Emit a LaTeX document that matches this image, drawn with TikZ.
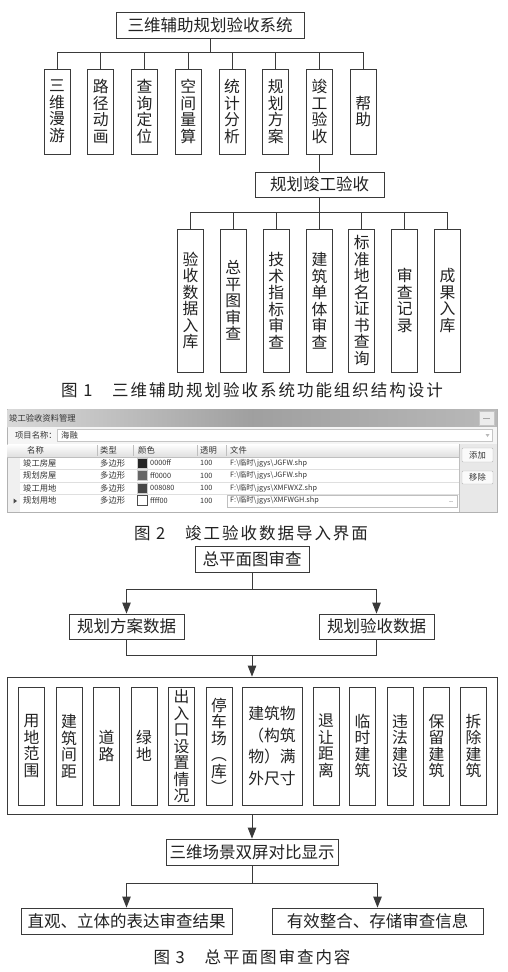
\documentclass[tikz,border=0pt]{standalone}
\usepackage{fontspec}
\setmainfont{Noto Sans CJK SC}
\newfontfamily\capfont{Noto Sans CJK SC}[LetterSpace=12]
\usetikzlibrary{arrows.meta}
\definecolor{ln}{HTML}{3A3A3A}
\definecolor{tx}{HTML}{222222}
\begin{document}
\begin{tikzpicture}[x=1pt,y=-1pt,
  bx/.style={draw=ln, line width=0.9pt, inner sep=0pt, text=tx, font=\fontsize{15.8}{16.5}\selectfont, align=center},
  hb/.style={bx, font=\fontsize{16.5}{17}\selectfont},
  vb/.style={bx, minimum width=26pt},
  cn/.style={draw=ln, line width=0.9pt},
  arr/.style={cn, -{Triangle[length=11pt,width=8.5pt]}},
  capt/.style={text=tx, font=\capfont\fontsize{16.5}{18}\selectfont, inner sep=0pt},
  sm/.style={text=black!80, font=\fontsize{8.3}{9}\selectfont, inner sep=0pt, anchor=west},
  ss/.style={text=black!80, font=\fontsize{7.3}{8}\selectfont, inner sep=0pt, anchor=west},
]
\useasboundingbox (0,0) rectangle (508,972);
\fill[white] (0,0) rectangle (508,972);

% ---------------- Figure 1 ----------------
\node[hb, minimum width=188pt, minimum height=26pt] (root) at (210,25) {三维辅助规划验收系统};
\coordinate (bus1) at (210,52);
\draw[cn] (root.south) -- (bus1);
\node[vb, minimum height=85pt] (m1) at (57,111.5) {三\\维\\漫\\游};
\node[vb, minimum height=85pt] (m2) at (100.75,111.5) {路\\径\\动\\画};
\node[vb, minimum height=85pt] (m3) at (144.5,111.5) {查\\询\\定\\位};
\node[vb, minimum height=85pt] (m4) at (188.25,111.5) {空\\间\\量\\算};
\node[vb, minimum height=85pt] (m5) at (232,111.5) {统\\计\\分\\析};
\node[vb, minimum height=85pt] (m6) at (275.75,111.5) {规\\划\\方\\案};
\node[vb, minimum height=85pt] (m7) at (319.5,111.5) {竣\\工\\验\\收};
\node[vb, minimum height=85pt] (m8) at (363.25,111.5) {帮\\助};
\foreach \i in {1,...,8} \draw[cn] (bus1) -| (m\i.north);

\node[hb, minimum width=129pt, minimum height=25pt] (sub) at (319.5,184.5) {规划竣工验收};
\draw[cn] (m7.south) -- (sub.north);
\coordinate (bus2) at (319.5,212);
\draw[cn] (sub.south) -- (bus2);
\node[vb, minimum height=143pt] (k1) at (190.5,300.5) {验\\收\\数\\据\\入\\库};
\node[vb, minimum height=143pt] (k2) at (233.3,300.5) {总\\平\\图\\审\\查};
\node[vb, minimum height=143pt] (k3) at (276.2,300.5) {技\\术\\指\\标\\审\\查};
\node[vb, minimum height=143pt] (k4) at (319.5,300.5) {建\\筑\\单\\体\\审\\查};
\node[vb, minimum height=143pt] (k5) at (361.8,300.5) {标\\准\\地\\名\\证\\书\\查\\询};
\node[vb, minimum height=143pt] (k6) at (404.7,300.5) {审\\查\\记\\录};
\node[vb, minimum height=143pt] (k7) at (447.5,300.5) {成\\果\\入\\库};
\foreach \i in {1,...,7} \draw[cn] (bus2) -| (k\i.north);

\node[capt] (cap1) at (252,390) {图~1\hspace{1.2em}三维辅助规划验收系统功能组织结构设计};

% ---------------- Figure 2 (screenshot) ----------------
\draw[gray!60, fill=gray!12] (7,409) rectangle (497,512);
\shade[left color=gray!30, right color=gray!55, middle color=gray!75] (7.5,409.5) rectangle (496.5,427);
\node[sm] (wtitle) at (9,418) {竣工验收资料管理};
\draw[gray!45, fill=gray!15] (479,411) rectangle (494,425);
\draw[gray!70, line width=1pt] (483,418) -- (490,418);
\fill[gray!8] (7.5,427) rectangle (496.5,443.5);
\node[sm] (plabel) at (15,435) {项目名称：};
\draw[gray!45, fill=white] (57,429.5) rectangle (492,441.5);
\node[sm] (pname) at (61,435.5) {海融};
\fill[gray!55] (485.5,434) -- (489.5,434) -- (487.5,437) -- cycle;
% table
\fill[white] (7.5,444) rectangle (459,511.5);
\shade[top color=white, bottom color=gray!25] (7.5,444) rectangle (459,457);
\draw[gray!50] (7.5,457) -- (459,457);
\foreach \x in {97,133,197,226} \draw[gray!50] (\x,445) -- (\x,456);
\fill[gray!12] (7.5,457.5) rectangle (20,511.5);
\foreach \y in {469.5,481.8,494.2} \draw[gray!25] (20,\y) -- (459,\y);
\fill[gray!18] (459.5,444) rectangle (496.5,511.5);
\draw[gray!50] (459,444) -- (459,511.5);
\draw[gray!55, fill=gray!4, rounded corners=1pt] (462,448) rectangle (493,462);
\node[sm, anchor=center] (badd) at (477.5,455) {添加};
\draw[gray!55, fill=gray!4, rounded corners=1pt] (462,471) rectangle (493,484);
\node[sm, anchor=center] (bdel) at (477.5,477.5) {移除};
% header
\node[sm] (h1) at (27,450.5) {名称};
\node[sm] (h2) at (100,450.5) {类型};
\node[sm] (h3) at (138,450.5) {颜色};
\node[sm] (h4) at (200,450.5) {透明};
\node[sm] (h5) at (230,450.5) {文件};
% rows
\node[sm] (r1a) at (23,463) {竣工房屋};
\node[sm] (r2a) at (23,475.5) {规划房屋};
\node[sm] (r3a) at (23,488) {竣工用地};
\node[sm] (r4a) at (23,500.5) {规划用地};
\foreach \y/\n in {463/1,475.5/2,488/3,500.5/4} {
  \node[sm] (r\n b) at (100,\y) {多边形};
  \node[ss] (r\n d) at (200,\y) {100};
}
\draw[gray!40, fill=black!85] (137,458) rectangle (147,468);
\draw[gray!40, fill=black!60] (137,470.5) rectangle (147,480.5);
\draw[gray!40, fill=black!72] (137,483) rectangle (147,493);
\draw[black!70, fill=white] (137,495.5) rectangle (147,505.5);
\node[ss] (r1c) at (150,463) {0000ff};
\node[ss] (r2c) at (150,475.5) {ff0000};
\node[ss] (r3c) at (150,488) {008080};
\node[ss] (r4c) at (150,500.5) {ffff00};
\draw[gray!50] (227,495.2) rectangle (457,507);
\node[ss] (r1e) at (230,463) {F:\textbackslash 临时\textbackslash jgys\textbackslash JGFW.shp};
\node[ss] (r2e) at (230,475.5) {F:\textbackslash 临时\textbackslash jgys\textbackslash JGFW.shp};
\node[ss] (r3e) at (230,488) {F:\textbackslash 临时\textbackslash jgys\textbackslash XMFWXZ.shp};
\node[ss] (r4e) at (230,500.5) {F:\textbackslash 临时\textbackslash jgys\textbackslash XMFWGH.shp};
\node[ss] (r4f) at (449,502) {..};
\fill[black!70] (13.5,498.5) -- (17,501) -- (13.5,503.5) -- cycle;

\node[capt] (cap2) at (251,533) {图~2\hspace{1.2em}竣工验收数据导入界面};

% ---------------- Figure 3 ----------------
\node[hb, minimum width=114pt, minimum height=26pt] (A) at (252,559) {总平面图审查};
\node[hb, minimum width=115pt, minimum height=25pt] (B) at (126.5,626.5) {规划方案数据};
\node[hb, minimum width=115pt, minimum height=25pt] (C) at (376.5,626.5) {规划验收数据};
\coordinate (j1) at (252,589);
\draw[cn] (A.south) -- (j1);
\draw[arr] (j1) -| (B.north);
\draw[arr] (j1) -| (C.north);
\coordinate (j2) at (252,655);
\draw[cn] (B.south) |- (j2);
\draw[cn] (C.south) |- (j2);
\node[bx, minimum width=490pt, minimum height=137pt] (O) at (252,745.5) {};
\draw[arr] (j2) -- (O.north);
\node[vb, minimum height=118pt] (p1) at (31.5,746) {用\\地\\范\\围};
\node[vb, minimum height=118pt] (p2) at (69,746) {建\\筑\\间\\距};
\node[vb, minimum height=118pt] (p3) at (106.5,746) {道\\路};
\node[vb, minimum height=118pt] (p4) at (144,746) {绿\\地};
\node[vb, minimum height=118pt] (p5) at (181.5,746) {出\\入\\口\\设\\置\\情\\况};
\node[vb, minimum height=118pt] (p6) at (219,746) {停\\车\\场\\︵\\库\\︶};
\node[bx, minimum width=60pt, minimum height=118pt, font=\fontsize{15.8}{21.5}\selectfont] (p7) at (272,746) {建筑物\\（构筑\\物）满\\外尺寸};
\node[vb, minimum height=118pt] (p8) at (326,746) {退\\让\\距\\离};
\node[vb, minimum height=118pt] (p9) at (362.5,746) {临\\时\\建\\筑};
\node[vb, minimum height=118pt] (p10) at (400,746) {违\\法\\建\\设};
\node[vb, minimum height=118pt] (p11) at (436.5,746) {保\\留\\建\\筑};
\node[vb, minimum height=118pt] (p12) at (473.5,746) {拆\\除\\建\\筑};

\node[hb, minimum width=172pt, minimum height=26pt] (D) at (252,852) {三维场景双屏对比显示};
\draw[arr] (O.south) -- (D.north);
\coordinate (j3) at (252,883);
\draw[cn] (D.south) -- (j3);
\node[hb, minimum width=211pt, minimum height=26pt] (E) at (126.5,921) {直观、立体的表达审查结果};
\node[hb, minimum width=211pt, minimum height=26pt] (F) at (377.5,921) {有效整合、存储审查信息};
\draw[arr] (j3) -| (E.north);
\draw[arr] (j3) -| (F.north);

\node[capt] (cap3) at (252,957) {图~3\hspace{1.2em}总平面图审查内容};
\end{tikzpicture}
\end{document}
